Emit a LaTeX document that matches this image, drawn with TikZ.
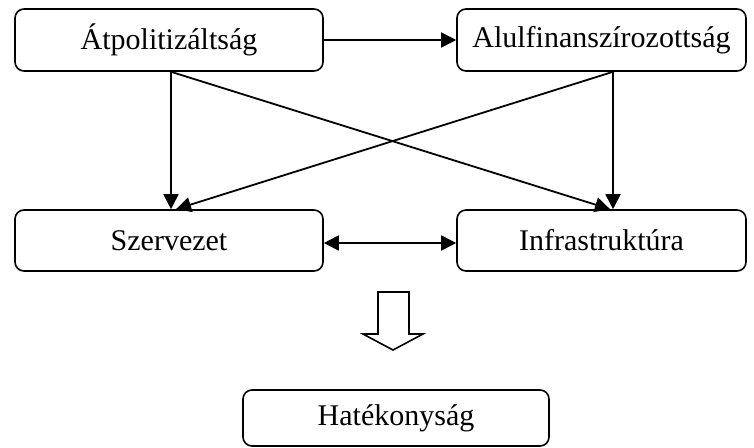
\documentclass[tikz,border=0pt]{standalone}
\usepackage{fontspec}
\setmainfont{Liberation Serif}
\usetikzlibrary{arrows.meta}
\begin{document}
\begin{tikzpicture}[x=1pt,y=-1pt,
  box/.style={draw, line width=1.6pt, rounded corners=9pt, inner sep=0pt, font=\fontsize{30}{35}\selectfont},
  arr/.style={line width=1.8pt, -{Triangle[length=15pt,width=15pt]}},
  darr/.style={line width=1.8pt, {Triangle[length=15pt,width=15pt]}-{Triangle[length=15pt,width=15pt]}},
  bigarrow/.style={draw, line width=1.6pt, fill=white, line join=miter},
]
\useasboundingbox (0,0) rectangle (754,447);
\node[box, minimum width=308pt, minimum height=62pt] (a) at (169,40) {Átpolitizáltság};
\node[box, minimum width=289pt, minimum height=62pt] (b) at (601.5,40) {Alulfinanszírozottság};
\node[box, minimum width=308pt, minimum height=61pt] (c) at (169,240.5) {Szervezet};
\node[box, minimum width=289pt, minimum height=61pt] (d) at (601.5,240.5) {Infrastruktúra};
\node[box, minimum width=306pt, minimum height=56pt] (e) at (396,418) {Hatékonyság};
% arrows
\draw[arr] (a.east) -- (b.west);
\draw[arr] ([xshift=2pt]a.south) -- ([xshift=2pt]c.north);
\draw[arr] ([xshift=11.5pt]b.south) -- ([xshift=11.5pt]d.north);
\draw[arr] ([xshift=2pt]a.south) -- ([xshift=8.5pt]d.north);
\draw[arr] ([xshift=11.5pt]b.south) -- ([xshift=7pt]c.north);
\draw[darr] ([yshift=-2.5pt]c.east) -- ([yshift=-2.5pt]d.west);
% big block arrow
\draw[bigarrow] (378,292) -- (409,292) -- (409,334) -- (423,334) -- (393,350) -- (363,334) -- (378,334) -- cycle;
\end{tikzpicture}
\end{document}
